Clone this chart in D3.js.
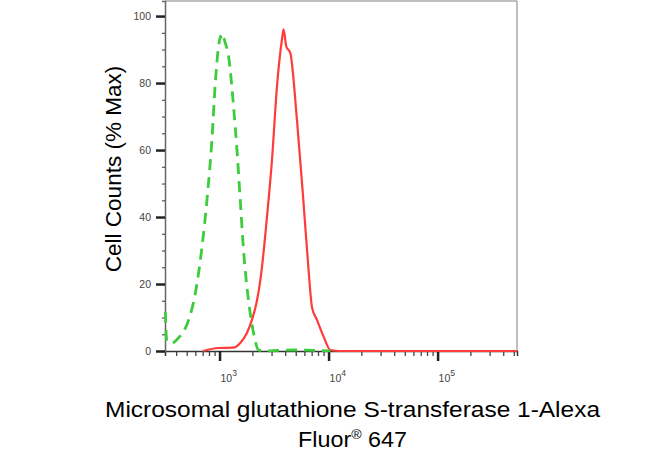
<!DOCTYPE html>
<html>
<head>
<meta charset="utf-8">
<script src="https://cdn.jsdelivr.net/npm/d3@7"></script>
<style>
  body { margin: 0; background: #fff; }
  svg { display: block; font-family: "Liberation Sans", Arial, sans-serif; }
</style>
</head>
<body>
<div id="chart"></div>
<script>
// control (isotype) histogram, green dashed
var controlX = [318, 329, 366, 420, 520, 598, 690, 766, 851, 914, 980, 1020, 1052, 1090, 1128, 1210, 1344, 1445, 1549, 1660, 1845, 2050, 2280, 2600, 3500, 5000, 7000, 10400];
var controlY = [11.7, 2.8, 2.4, 3.9, 9.2, 17, 31, 45, 63, 80, 91, 94, 92.5, 93.5, 92, 88, 73, 60, 45, 30, 15, 5.4, 0.3, 0, 0.2, 0.3, 0.2, 0];

// sample histogram, red solid
var sampleX = [708, 973, 1336, 1549, 1782, 1982, 2203, 2449, 2722, 3026, 3364, 3736, 3864, 4090, 4456, 5130, 5900, 6560, 7050, 7830, 9000, 10370, 12800, 535000];
var sampleY = [0, 0.9, 1, 2.4, 5.4, 9.3, 15, 25, 40, 57, 79, 93, 96, 91, 89, 69, 44, 24, 13, 9.3, 4.3, 0.3, 0, 0];

var xDomain = [316, 535000];
var majorX = [1000, 10000, 100000];
var majorExp = ["3", "4", "5"];
var yMajor = [0, 20, 40, 60, 80, 100];

var W = 650, H = 457;
var margin = {top: 1, right: 133, bottom: 106, left: 165};
var width = W - margin.left - margin.right,
    height = H - margin.top - margin.bottom;

var svg = d3.select("#chart").append("svg")
    .attr("width", W)
    .attr("height", H);

var g = svg.append("g")
    .attr("transform", "translate(" + margin.left + "," + margin.top + ")");

var x = d3.scaleLog().domain(xDomain).range([0, width]);
var y = d3.scaleLinear().domain([0, 104.5]).range([height, 0]);

// frame: top and right light gray
g.append("line").attr("x1", 0).attr("x2", width).attr("y1", 0).attr("y2", 0)
    .attr("stroke", "#aaa").attr("stroke-width", 1.5);
g.append("line").attr("x1", width).attr("x2", width).attr("y1", 0).attr("y2", height)
    .attr("stroke", "#aaa").attr("stroke-width", 1.5);

// minor x ticks (2..9 of every decade)
var minorX = [];
for (var e = 2; e <= 5; e++) {
  for (var m = 2; m <= 9; m++) {
    var v = m * Math.pow(10, e);
    if (v > xDomain[0] && v < xDomain[1]) minorX.push(v);
  }
}

g.append("g")
    .attr("transform", "translate(0," + height + ")")
    .call(d3.axisBottom(x).tickValues(minorX).tickSize(5).tickFormat(""))
    .call(function(s) {
      s.select(".domain").attr("stroke", "#333").attr("stroke-width", 1.5);
      s.selectAll(".tick line").attr("stroke", "#444").attr("stroke-width", 1.3);
    });

g.append("g")
    .attr("transform", "translate(0," + height + ")")
    .call(d3.axisBottom(x).tickValues(majorX).tickSize(10).tickFormat(""))
    .call(function(s) {
      s.select(".domain").remove();
      s.selectAll(".tick line").attr("stroke", "#222").attr("stroke-width", 2.5);
    });

// x tick labels 10^n
var xl = g.selectAll(".xlab").data(majorX).enter().append("text")
    .attr("class", "xlab")
    .attr("x", function(d) { return x(d) + 1; })
    .attr("y", height + 31)
    .attr("font-size", 10.5)
    .attr("fill", "#444");
xl.append("tspan").text("10");
xl.append("tspan").attr("dy", -6).attr("font-size", 8.5)
    .text(function(d, i) { return majorExp[i]; });

// y ticks
var minorY = d3.range(5, 101, 5).filter(function(d) { return d % 20 !== 0; });
g.append("g")
    .call(d3.axisLeft(y).tickValues(minorY).tickSize(3).tickFormat(""))
    .call(function(s) {
      s.select(".domain").attr("stroke", "#666").attr("stroke-width", 1.5);
      s.selectAll(".tick line").attr("stroke", "#555").attr("stroke-width", 1.2);
    });
g.append("g")
    .call(d3.axisLeft(y).tickValues(yMajor).tickSize(9).tickPadding(5))
    .call(function(s) {
      s.select(".domain").remove();
      s.selectAll(".tick line").attr("stroke", "#222").attr("stroke-width", 2.5);
      s.selectAll(".tick text").attr("font-size", 10.5).attr("fill", "#444")
          .attr("font-family", "Liberation Sans, Arial, sans-serif");
    });

var line = d3.line()
    .x(function(d) { return x(d[0]); })
    .y(function(d) { return y(d[1]); })
    .curve(d3.curveMonotoneX);

g.append("path")
    .datum(sampleX.map(function(v, i) { return [v, sampleY[i]]; }))
    .attr("fill", "none")
    .attr("stroke", "#ff3b3b")
    .attr("stroke-width", 2.2)
    .attr("d", line);

g.append("path")
    .datum(controlX.map(function(v, i) { return [v, controlY[i]]; }))
    .attr("fill", "none")
    .attr("stroke", "#3ccc3c")
    .attr("stroke-width", 2.8)
    .attr("stroke-dasharray", "11,7")
    .attr("d", line);

// axis titles
svg.append("text")
    .attr("transform", "translate(121,169) rotate(-90)")
    .attr("text-anchor", "middle")
    .attr("font-size", 22.5)
    .attr("fill", "#000")
    .text("Cell Counts (% Max)");

svg.append("text")
    .attr("x", 105).attr("y", 417)
    .attr("font-size", 21.5)
    .attr("fill", "#000")
    .attr("textLength", 495)
    .attr("lengthAdjust", "spacingAndGlyphs")
    .text("Microsomal glutathione S-transferase 1-Alexa");

var t2 = svg.append("text")
    .attr("x", 298).attr("y", 447)
    .attr("font-size", 21.5)
    .attr("fill", "#000")
    .attr("textLength", 109)
    .attr("lengthAdjust", "spacingAndGlyphs");
t2.append("tspan").text("Fluor");
t2.append("tspan").attr("dy", -8).attr("font-size", 13).text("®");
t2.append("tspan").attr("dy", 8).text(" 647");
</script>
</body>
</html>
